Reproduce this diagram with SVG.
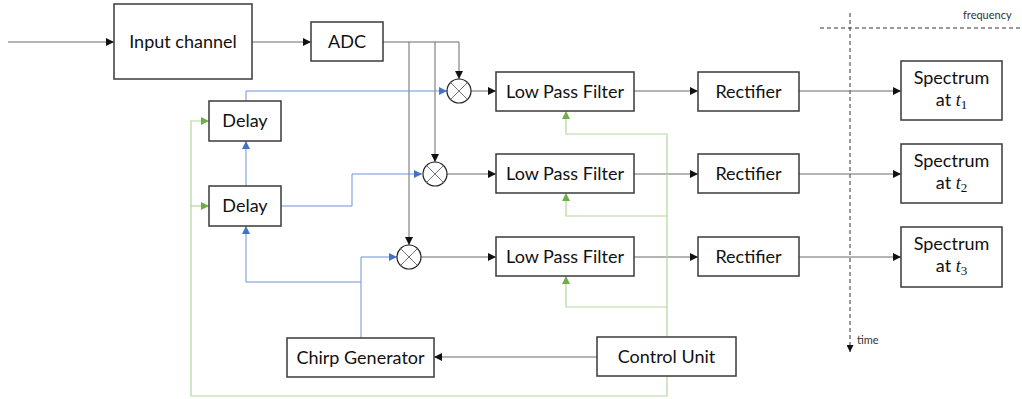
<svg xmlns="http://www.w3.org/2000/svg" width="1022" height="399" viewBox="0 0 1022 399">
  <style>
    .box { fill: #ffffff; stroke: #3a3a3a; stroke-width: 1.5; }
    .lbl { font-family: Lato, "Open Sans", "Liberation Sans", sans-serif; font-size: 18px; fill: #111; text-anchor: middle; }
    .small { font-family: Lato, "Liberation Sans", sans-serif; font-size: 11px; fill: #333; }
    .math { font-family: "Liberation Serif", serif; font-style: italic; font-size: 18px; }
    .sub { font-family: "Liberation Serif", serif; font-style: normal; font-size: 13px; }
    .mix { fill: #ffffff; stroke: #222; stroke-width: 1.2; }
    .mixx { stroke: #777; stroke-width: 1; }
    .k { fill: none; stroke: #6a6a6a; stroke-width: 1; marker-end: url(#ak); }
    .b { fill: none; stroke: #6d93d6; stroke-width: 1; marker-end: url(#ab); }
    .g { fill: none; stroke: #b3d79a; stroke-width: 1.2; marker-end: url(#ag); }
    .d { fill: none; stroke: #333; stroke-width: 1; stroke-dasharray: 4 3; }
  </style>
  <defs>
    <marker id="ak" viewBox="0 0 8 8" refX="8" refY="4" markerWidth="8" markerHeight="8" markerUnits="userSpaceOnUse" orient="auto">
      <path d="M0,0 L8,4 L0,8 z" fill="#111"/>
    </marker>
    <marker id="ab" viewBox="0 0 8 8" refX="8" refY="4" markerWidth="8" markerHeight="8" markerUnits="userSpaceOnUse" orient="auto">
      <path d="M0,0 L8,4 L0,8 z" fill="#4472c4"/>
    </marker>
    <marker id="ag" viewBox="0 0 8 8" refX="8" refY="4" markerWidth="8" markerHeight="8" markerUnits="userSpaceOnUse" orient="auto">
      <path d="M0,0 L8,4 L0,8 z" fill="#70ad47"/>
    </marker>
    <marker id="ad" viewBox="0 0 8 8" refX="8" refY="4" markerWidth="7" markerHeight="7" markerUnits="userSpaceOnUse" orient="auto">
      <path d="M0,0 L8,4 L0,8 z" fill="#111"/>
    </marker>
  </defs>

  <!-- axes -->
  <g id="axes">
    <path class="d" d="M850,13 V352" marker-end="url(#ad)"/>
    <path class="d" d="M820,28 H1022"/>
    <text class="small" x="963" y="19">frequency</text>
    <text class="small" x="857" y="344">time</text>
  </g>

  <!-- connectors -->
  <g id="connectors">
    <!-- signal path -->
    <path class="k" d="M8,42 H114"/>
    <path class="k" d="M252,42 H311"/>
    <path class="k" d="M383,42 H459 V79"/>
    <path class="k" d="M435,42 V162"/>
    <path class="k" d="M409,42 V245"/>
    <path class="k" d="M471,91 H496"/>
    <path class="k" d="M447,174 H496"/>
    <path class="k" d="M421,257 H496"/>
    <path class="k" d="M634,91 H698"/>
    <path class="k" d="M634,174 H698"/>
    <path class="k" d="M634,257 H698"/>
    <path class="k" d="M799,91 H901"/>
    <path class="k" d="M799,174 H901"/>
    <path class="k" d="M799,257 H901"/>
    <path class="k" d="M597,357 H434"/>
    <!-- chirp / delay lines -->
    <path class="b" d="M246,101 V91 H447"/>
    <path class="b" d="M246,186 V141"/>
    <path class="b" d="M281,206 H352 V174 H422"/>
    <path class="b" d="M361,338 V257 H397"/>
    <path class="b" d="M361,282 H246 V226"/>
    <!-- control lines -->
    <path class="g" d="M667,336 V134 H566 V111"/>
    <path class="g" d="M667,216 H566 V193"/>
    <path class="g" d="M667,307 H566 V276"/>
    <path class="g" d="M667,376 V396 H191 V121 H209"/>
    <path class="g" d="M191,206 H209"/>
  </g>

  <g id="input-channel">
    <rect class="box" x="114" y="4" width="138" height="75"/>
    <text class="lbl" x="183" y="48">Input channel</text>
  </g>
  <g id="adc">
    <rect class="box" x="311" y="22" width="72" height="39"/>
    <text class="lbl" x="347" y="48">ADC</text>
  </g>

  <g id="delay-1">
    <rect class="box" x="209" y="101" width="72" height="40"/>
    <text class="lbl" x="245" y="127">Delay</text>
  </g>
  <g id="delay-2">
    <rect class="box" x="209" y="186" width="72" height="40"/>
    <text class="lbl" x="245" y="212">Delay</text>
  </g>

  <g id="mixer-1">
    <circle class="mix" cx="459" cy="91" r="12"/>
    <path class="mixx" d="M450.5,82.5 L467.5,99.5 M467.5,82.5 L450.5,99.5"/>
  </g>
  <g id="mixer-2">
    <circle class="mix" cx="435" cy="174" r="12"/>
    <path class="mixx" d="M426.5,165.5 L443.5,182.5 M443.5,165.5 L426.5,182.5"/>
  </g>
  <g id="mixer-3">
    <circle class="mix" cx="409" cy="257" r="12"/>
    <path class="mixx" d="M400.5,248.5 L417.5,265.5 M417.5,248.5 L400.5,265.5"/>
  </g>

  <g id="lpf-1">
    <rect class="box" x="496" y="72" width="138" height="39"/>
    <text class="lbl" x="565" y="97.5">Low Pass Filter</text>
  </g>
  <g id="lpf-2">
    <rect class="box" x="496" y="154" width="138" height="39"/>
    <text class="lbl" x="565" y="180">Low Pass Filter</text>
  </g>
  <g id="lpf-3">
    <rect class="box" x="496" y="237" width="138" height="39"/>
    <text class="lbl" x="565" y="263">Low Pass Filter</text>
  </g>

  <g id="rectifier-1">
    <rect class="box" x="698" y="72" width="101" height="39"/>
    <text class="lbl" x="748.5" y="97.5">Rectifier</text>
  </g>
  <g id="rectifier-2">
    <rect class="box" x="698" y="154" width="101" height="39"/>
    <text class="lbl" x="748.5" y="180">Rectifier</text>
  </g>
  <g id="rectifier-3">
    <rect class="box" x="698" y="237" width="101" height="39"/>
    <text class="lbl" x="748.5" y="263">Rectifier</text>
  </g>

  <g id="spectrum-1">
    <rect class="box" x="901" y="61" width="101" height="59"/>
    <text class="lbl" x="951.5" y="84">Spectrum</text>
    <text class="lbl" x="951.5" y="106">at <tspan class="math">t</tspan><tspan class="sub" dy="3">1</tspan></text>
  </g>
  <g id="spectrum-2">
    <rect class="box" x="901" y="144" width="101" height="59"/>
    <text class="lbl" x="951.5" y="167">Spectrum</text>
    <text class="lbl" x="951.5" y="189">at <tspan class="math">t</tspan><tspan class="sub" dy="3">2</tspan></text>
  </g>
  <g id="spectrum-3">
    <rect class="box" x="901" y="227" width="101" height="60"/>
    <text class="lbl" x="951.5" y="250">Spectrum</text>
    <text class="lbl" x="951.5" y="272">at <tspan class="math">t</tspan><tspan class="sub" dy="3">3</tspan></text>
  </g>

  <g id="chirp-generator">
    <rect class="box" x="287" y="338" width="147" height="39"/>
    <text class="lbl" x="360.5" y="363.5">Chirp Generator</text>
  </g>
  <g id="control-unit">
    <rect class="box" x="597" y="337" width="139" height="39"/>
    <text class="lbl" x="666.5" y="362.5">Control Unit</text>
  </g>
</svg>
